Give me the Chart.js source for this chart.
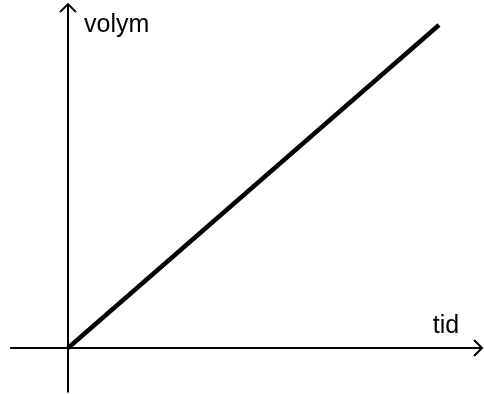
<!DOCTYPE html>
<html>
<head>
<meta charset="utf-8">
<script src="https://cdn.jsdelivr.net/npm/chart.js@4/dist/chart.umd.min.js"></script>
<style>
  html, body { margin: 0; padding: 0; background: #fff; }
  #wrap { width: 484px; height: 394px; position: relative; }
</style>
</head>
<body>
<div id="wrap"><canvas id="myChart"></canvas></div>
<script>
// line: volym grows linearly with tid
var tidValues = [0, 10];
var volymValues = [0, 10.03];
var xLabel = "tid";
var yLabel = "volym";

var points = tidValues.map(function (t, i) { return { x: t, y: volymValues[i] }; });

// draws the two arrowed axes and their labels
var arrowAxes = {
    id: 'arrowAxes',
    afterDatasetsDraw: function (chart) {
        var ctx = chart.ctx;
        var xs = chart.scales.x, ys = chart.scales.y;
        var x0 = xs.getPixelForValue(0);
        var y0 = ys.getPixelForValue(0);
        var left = xs.getPixelForValue(-1.56);
        var right = xs.getPixelForValue(11.16);
        var top = ys.getPixelForValue(10.68);
        var bottom = ys.getPixelForValue(-1.38);

        ctx.save();
        ctx.strokeStyle = '#000';
        ctx.lineWidth = 2;
        ctx.lineCap = 'butt';
        ctx.beginPath();
        ctx.moveTo(left, y0); ctx.lineTo(right, y0);
        ctx.moveTo(x0, bottom); ctx.lineTo(x0, top);
        ctx.stroke();

        ctx.lineJoin = 'miter';
        ctx.beginPath();
        ctx.moveTo(right - 8, y0 - 8); ctx.lineTo(right, y0); ctx.lineTo(right - 8, y0 + 8);
        ctx.moveTo(x0 - 8, top + 8); ctx.lineTo(x0, top); ctx.lineTo(x0 + 8, top + 8);
        ctx.stroke();

        ctx.fillStyle = '#000';
        ctx.font = '25px "Liberation Sans", Arial, sans-serif';
        ctx.textBaseline = 'alphabetic';
        ctx.textAlign = 'left';
        ctx.fillText(yLabel, x0 + 16, top + 28);
        ctx.fillText(xLabel, xs.getPixelForValue(9.83), y0 - 15);
        ctx.restore();
    }
};

new Chart("myChart", {
    type: "scatter",
    data: {
        datasets: [{
            data: points,
            showLine: true,
            borderColor: "#000",
            borderWidth: 4.5,
            pointRadius: 0,
            fill: false
        }]
    },
    options: {
        responsive: true,
        maintainAspectRatio: false,
        animation: false,
        layout: { padding: 0 },
        plugins: {
            legend: { display: false },
            tooltip: { enabled: false }
        },
        scales: {
            x: { type: 'linear', display: false, min: -1.833, max: 11.213 },
            y: { type: 'linear', display: false, min: -1.4286, max: 10.807 }
        }
    },
    plugins: [arrowAxes]
});
</script>
</body>
</html>
